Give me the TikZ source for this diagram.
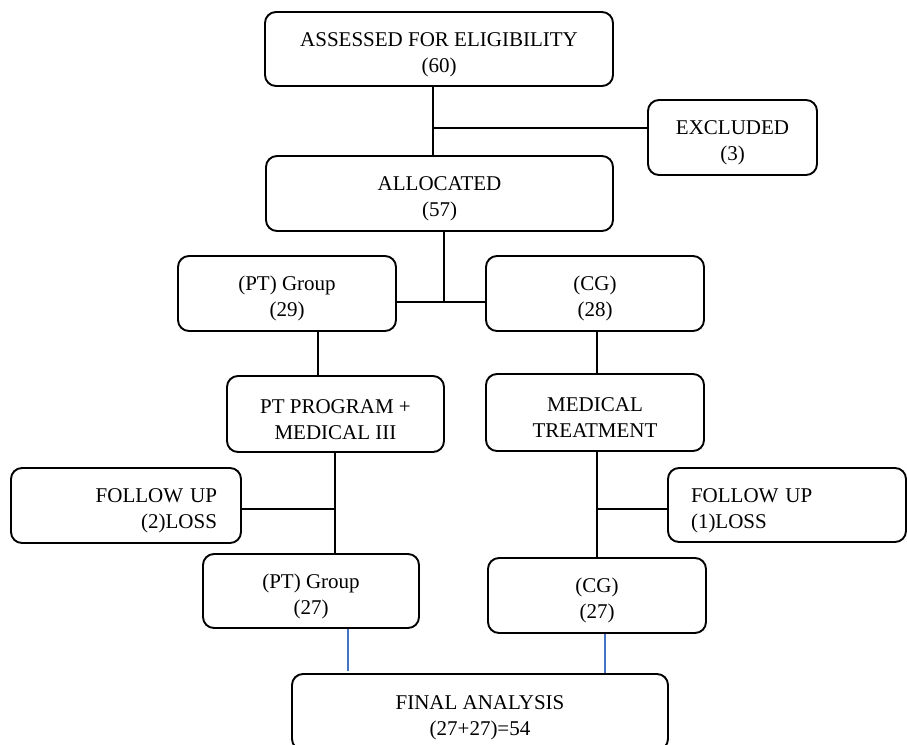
\documentclass[tikz,border=0pt]{standalone}
\usepackage{fontspec}
\setmainfont{Liberation Serif}
\usetikzlibrary{calc}
\definecolor{linkblue}{RGB}{68,114,196}
\newcommand{\boxstrut}{\rule{0pt}{24.5pt}}
\begin{document}
\begin{tikzpicture}[x=1pt,y=-1pt,
  box/.style={draw=black, line width=1.9pt, rounded corners=11pt, align=center,
    inner sep=0pt, font=\fontsize{21}{26}\selectfont},
  conn/.style={draw=black, line width=1.5pt},
  thinconn/.style={draw=black, line width=1.1pt},
  blueconn/.style={draw=linkblue, line width=1.6pt}]
\clip (0,0) rectangle (907,744);
\fill[white] (0,0) rectangle (907,744);

% nodes
\node[box, minimum width=348pt, minimum height=74pt] (assess) at (439,49) {\boxstrut ASSESSED FOR ELIGIBILITY\\(60)};
\node[box, minimum width=169pt, minimum height=75pt] (excl) at (732.5,137.5) {\boxstrut EXCLUDED\\(3)};
\node[box, minimum width=347pt, minimum height=75pt] (alloc) at (439.5,193.5) {\boxstrut ALLOCATED\\(57)};
\node[box, minimum width=218pt, minimum height=75pt] (pt29) at (287,293.5) {\boxstrut (PT) Group\\(29)};
\node[box, minimum width=218pt, minimum height=75pt] (cg28) at (595,293.5) {\boxstrut (CG)\\(28)};
\node[box, minimum width=217pt, minimum height=76pt] (ptprog) at (335.5,414) {\boxstrut PT PROGRAM +\\MEDICAL III};
\node[box, minimum width=218pt, minimum height=77pt] (medtr) at (595,412.5) {\boxstrut MEDICAL\\TREATMENT};
\node[box, minimum width=230pt, minimum height=75pt, text width=182pt, align=right] (fu2) at (126,505.5) {\boxstrut FOLLOW UP\\(2)LOSS};
\node[box, minimum width=238pt, minimum height=74pt, text width=192pt, align=left] (fu1) at (787,505) {\boxstrut FOLLOW UP\\(1)LOSS};
\node[box, minimum width=216pt, minimum height=74pt] (pt27) at (311,591) {\boxstrut (PT) Group\\(27)};
\node[box, minimum width=218pt, minimum height=75pt] (cg27) at (597,595.5) {\boxstrut (CG)\\(27)};
\node[box, minimum width=376pt, minimum height=76pt] (final) at (480,712) {\boxstrut FINAL ANALYSIS\\(27+27)=54};

% junction coordinates
\coordinate (j1) at (433,128);
\coordinate (j2) at (444,302);
\coordinate (xa) at (318,0);
\coordinate (xb) at (597,0);
\coordinate (j3) at (335,509);
\coordinate (j4) at (597,509);
\coordinate (xe) at (348,0);
\coordinate (xf) at (605,0);

% connectors
\draw[conn] (assess.south -| j1) -- (alloc.north -| j1);
\draw[conn] (j1) -- (excl.west |- j1);
\draw[conn] (alloc.south -| j2) -- (j2);
\draw[conn] (pt29.east |- j2) -- (cg28.west |- j2);
\draw[thinconn] (pt29.south -| xa) -- (ptprog.north -| xa);
\draw[conn] (cg28.south -| xb) -- (medtr.north -| xb);
\draw[conn] (ptprog.south -| j3) -- (pt27.north -| j3);
\draw[conn] (j3) -- (fu2.east |- j3);
\draw[line width=2.2pt] ($(fu2.east |- j3)+(41,0)$) -- ($(fu2.east |- j3)+(71,0)$);
\draw[conn] (medtr.south -| j4) -- (cg27.north -| j4);
\draw[conn] (j4) -- (fu1.west |- j4);
\draw[blueconn] (pt27.south -| xe) -- ($(final.north -| xe)+(0,-2)$);
\draw[blueconn] (cg27.south -| xf) -- (final.north -| xf);
\end{tikzpicture}
\end{document}
